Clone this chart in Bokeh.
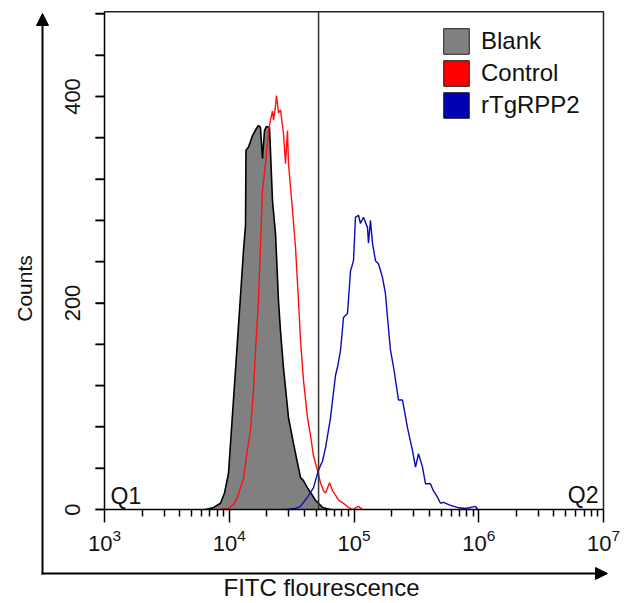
import math
from bokeh.plotting import figure
from bokeh.models import (FixedTicker, Arrow, NormalHead,
                          Label, Legend, LegendItem, LogTickFormatter)
from bokeh.embed import file_html
from bokeh.resources import INLINE

# ---------------- data ----------------
blank_fitc = [6450, 7480, 8510, 9160, 9860, 10810, 11650, 12310, 13010, 13500, 13620,
              14270, 15350, 16520, 17150, 17780, 18470, 19170, 19900, 21030, 22220,
              23490, 24820, 25750, 27220, 29850, 32730, 35240, 37250, 39360, 42380,
              45630, 49090, 55950, 64860]
blank_counts = [0, 2, 6, 16, 35, 106, 164, 207, 251, 275, 348,
                351, 362, 369, 372, 370, 340, 367, 371, 370, 299,
                267, 202, 173, 137, 89, 64, 45, 31, 28, 21,
                15, 9, 2, 0]

control_fitc = [8510, 9860, 10810, 11650, 13010, 13750, 14800, 15640, 16230, 17150,
                18470, 19530, 20640, 21420, 22220, 22630, 23490, 23920, 24820, 25750,
                27220, 28250, 29300, 29850, 32130, 33960, 35900, 37250, 39360, 42380,
                44790, 47320, 50930, 53830, 57000, 59160, 63680, 67300, 71120, 75160,
                82410, 90360, 97270, 108600, 116900]
control_counts = [0, 1, 5, 12, 30, 52, 77, 115, 154, 202,
                  309, 335, 367, 377, 386, 377, 391, 401, 384, 387,
                  364, 335, 367, 335, 290, 254, 202, 164, 125, 89,
                  72, 52, 38, 26, 18, 16, 26, 18, 14, 9,
                  6, 2, 0, 3, 0]

rtg_fitc = [28250, 33960, 37250, 42380, 47320, 51880, 55950, 59160, 64860, 67300,
            71120, 73800, 77980, 82410, 88720, 93760, 99080, 102800, 108600, 112700,
            119100, 128300, 130600, 135500, 140600, 148600, 157100, 169000, 178700, 185600,
            196200, 207500, 227500, 244900, 268500, 294400, 311200, 328900, 354000, 374100,
            410200, 433600, 466600, 493300, 521200, 593800, 676100, 783400, 941900, 977000]
rtg_counts = [0, 1, 3, 12, 21, 38, 47, 60, 89, 106,
              130, 138, 154, 186, 190, 231, 241, 283, 285, 277,
              283, 273, 258, 280, 258, 241, 238, 225, 209, 186,
              154, 138, 106, 106, 79, 57, 41, 54, 41, 25,
              25, 18, 12, 6, 7, 4, 2, 1, 3, 0]

series_names = ["Blank", "Control", "rTgRPP2"]
gate_fitc = 52000
x_bounds = (1e3, 1e7)
y_bounds = (0, 482)
x_major = [1e3, 1e4, 1e5, 1e6, 1e7]
x_minor = [m * d for d in [1e3, 1e4, 1e5, 1e6] for m in range(2, 10)]
y_major = [0, 200, 400]
y_minor = [40, 80, 120, 160, 240, 280, 320, 360, 440, 480]

# ---------------- geometry (pixels) ----------------
W, H = 624, 603
BOX_L, BOX_R, BOX_B = 104, 603, 509          # inner plot box
PX_PER_DECADE = (BOX_R - BOX_L) / 4.0
PX_PER_COUNT = 413 / 400.0
x_lo = 10 ** (3 - BOX_L / PX_PER_DECADE)
x_hi = 10 ** (7 + (W - BOX_R) / PX_PER_DECADE)
y_lo = -(H - BOX_B) / PX_PER_COUNT
y_hi = BOX_B / PX_PER_COUNT
Y_TICK_LEN = 9

FONT = "Liberation Sans"
TXT = "#111111"

p = figure(width=W, height=H, x_axis_type="log", x_range=(x_lo, x_hi), y_range=(y_lo, y_hi),
           output_backend="svg", toolbar_location=None,
           min_border_left=0, min_border_right=0, min_border_top=0, min_border_bottom=0)
p.grid.visible = False
p.outline_line_color = None
p.background_fill_color = "white"
p.border_fill_color = "white"

# x axis, drawn at count 0
xa = p.xaxis[0]
xa.fixed_location = 0
xa.bounds = x_bounds
xa.ticker = FixedTicker(ticks=x_major, minor_ticks=x_minor)
xa.formatter = LogTickFormatter()
xa.major_tick_out = 13
xa.major_tick_in = 0
xa.minor_tick_out = 7
xa.minor_tick_in = 0
xa.axis_line_width = 1.5
xa.major_tick_line_width = 1.5
xa.minor_tick_line_width = 1.5
xa.major_label_text_font = FONT
xa.major_label_text_font_size = "22px"
xa.major_label_text_color = TXT
xa.major_label_standoff = 6

# y axis, drawn at FITC 10^3
ya = p.yaxis[0]
ya.fixed_location = 1e3
ya.bounds = y_bounds
ya.ticker = FixedTicker(ticks=y_major, minor_ticks=y_minor)
ya.major_tick_out = Y_TICK_LEN
ya.major_tick_in = 0
ya.minor_tick_out = Y_TICK_LEN
ya.minor_tick_in = 0
ya.axis_line_width = 1.5
ya.major_tick_line_width = 1.5
ya.minor_tick_line_width = 1.5
ya.major_tick_line_color = "black"
ya.minor_tick_line_color = "black"
ya.major_label_orientation = "vertical"
ya.major_label_text_font = FONT
ya.major_label_text_font_size = "22px"
ya.major_label_text_color = TXT
ya.major_label_standoff = 16

# y tick marks, also drawn as segments so that they always show
y_all = y_major + y_minor
x_tick_end = 10 ** (3 - Y_TICK_LEN / PX_PER_DECADE)
p.segment(x0=[x_tick_end] * len(y_all), y0=y_all, x1=[x_bounds[0]] * len(y_all), y1=y_all,
          line_color="black", line_width=1.5, level="overlay")

# top and right edges of the inner box
p.line([x_bounds[0], x_bounds[1], x_bounds[1]], [y_bounds[1], y_bounds[1], y_bounds[0]],
       line_color="#222222", line_width=1.5)

# histograms
p.varea(x=blank_fitc, y1=[0] * len(blank_fitc), y2=blank_counts, fill_color="#808080")
p.line(blank_fitc, blank_counts, line_color="black", line_width=1.6)
p.line(control_fitc, control_counts, line_color="#ff1010", line_width=1.4)
p.line(rtg_fitc, rtg_counts, line_color="#0a0ab8", line_width=1.4)

# gate line
p.segment(x0=[gate_fitc], y0=[y_bounds[0]], x1=[gate_fitc], y1=[y_bounds[1]],
          line_color="#333333", line_width=1.5)

# legend swatches (off-view quads, used only for the legend glyphs)
colors = ["#808080", "#ff0000", "#0000b4"]
items = []
for name, c in zip(series_names, colors):
    r = p.quad(left=[2], right=[3], top=[-200], bottom=[-210], fill_color=c,
               line_color="#222222", line_width=1)
    items.append(LegendItem(label=name, renderers=[r]))
legend = Legend(items=items, location=(440, 482), glyph_width=32, glyph_height=32,
                padding=0, spacing=0, margin=0, label_standoff=9,
                border_line_alpha=0, background_fill_alpha=0,
                label_text_font=FONT, label_text_font_size="24px", label_text_color=TXT)
p.add_layout(legend)

# outer axis arrows (screen units, origin at the bottom-left of the canvas)
for xs, ys, xe, ye in [(42, 29, 42, 590), (41, 30, 607, 30)]:
    p.add_layout(Arrow(end=NormalHead(size=12, fill_color="black", line_color="black", line_width=1),
                       x_start=xs, y_start=ys, x_end=xe, y_end=ye,
                       start_units="screen", end_units="screen",
                       line_width=2, line_color="black"))

# axis titles
p.add_layout(Label(x=24, y=H - 288, x_units="screen", y_units="screen", text="Counts",
                   angle=math.pi / 2, text_align="center", text_baseline="middle",
                   text_font=FONT, text_font_size="21px", text_color=TXT))
p.add_layout(Label(x=321, y=H - 587, x_units="screen", y_units="screen", text="FITC flourescence",
                   text_align="center", text_baseline="middle",
                   text_font=FONT, text_font_size="24px", text_color=TXT))

# quadrant labels
p.add_layout(Label(x=110, y=H - 495, x_units="screen", y_units="screen", text="Q1",
                   text_font=FONT, text_font_size="23px", text_color=TXT, text_baseline="middle"))
p.add_layout(Label(x=598, y=H - 494, x_units="screen", y_units="screen", text="Q2", text_align="right",
                   text_font=FONT, text_font_size="23px", text_color=TXT, text_baseline="middle"))

open("out.html", "w").write(file_html(p, INLINE))
